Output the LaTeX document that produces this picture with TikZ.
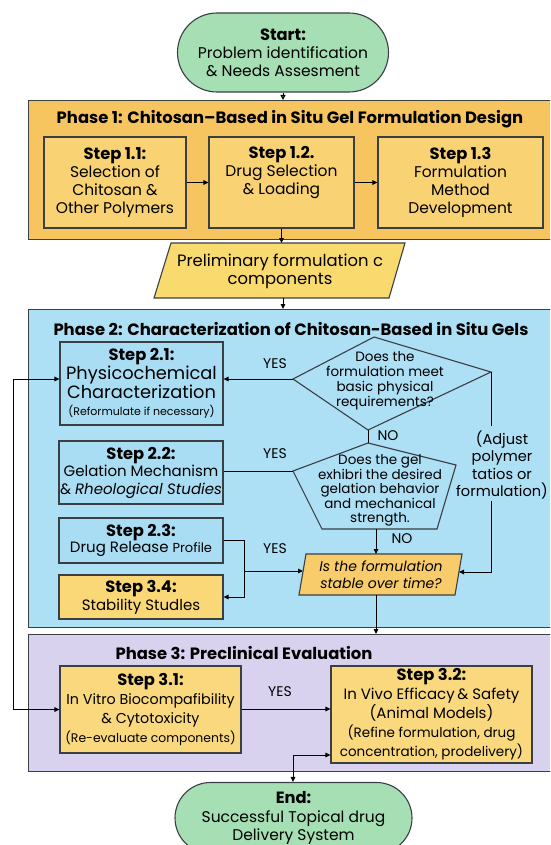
\documentclass[tikz,border=0pt]{standalone}
\usepackage{fontspec}
\setmainfont{Poppins}
\usetikzlibrary{arrows.meta,shapes.misc,calc}
\definecolor{greenC}{HTML}{A5DFB3}
\definecolor{ph1C}{HTML}{F6C55F}
\definecolor{st1C}{HTML}{F9D373}
\definecolor{prC}{HTML}{F9DA6E}
\definecolor{ph2C}{HTML}{ADDFF5}
\definecolor{st2C}{HTML}{A9DDF3}
\definecolor{s34C}{HTML}{FAD878}
\definecolor{stabC}{HTML}{F8CC6A}
\definecolor{ph3C}{HTML}{D8D2EE}
\definecolor{st3C}{HTML}{FAD97E}
\definecolor{lineC}{HTML}{3A3F44}
\newcommand\myfs[2]{\fontsize{#1}{#2}\selectfont}
\newcommand\hd[1]{{\myfs{16.3}{18}\bfseries #1}}
\begin{document}
\begin{tikzpicture}[x=1pt,y=-1pt,
  bx/.style={draw=lineC, line width=1.1pt, inner sep=0pt, align=center},
  phasebox/.style={draw=lineC, line width=1.2pt, inner sep=0pt, anchor=north west},
  ttl/.style={font=\myfs{16.4}{18}\bfseries, inner sep=0pt},
  body/.style={font=\myfs{15.5}{18}},
  shp/.style={draw=lineC, line width=1.1pt},
  arr/.style={draw=black, line width=1pt, -{Triangle[length=5pt,width=4.5pt]}},
  darr/.style={draw=black, line width=1pt, {Triangle[length=5pt,width=4.5pt]}-{Triangle[length=5pt,width=4.5pt]}},
  ln/.style={draw=black, line width=1pt},
  lab/.style={font=\myfs{14}{16}, inner sep=0pt},
  small/.style={font=\myfs{13.5}{15}, inner sep=0pt, align=center}
]
\useasboundingbox (0,0) rectangle (550,845);
\clip (0,0) rectangle (550,845);
\fill[white] (0,0) rectangle (550,845);

% Start
\node[bx, rounded rectangle, fill=greenC, minimum width=211, minimum height=79, body] (start) at (283,52.5)
  {\hd{Start:}\\Problem identification\\\& Needs Assesment};

% Phase 1
\node[phasebox, fill=ph1C, minimum width=524, minimum height=139] (ph1) at (28,100) {};
\draw[draw=black, line width=1pt, -{Triangle[length=5pt,width=5pt,fill=green!55!black]}] (start.south) -- (start.south |- ph1.north);
\node[ttl] (ph1t) at (290,119) {Phase 1: Chitosan–Based in Situ Gel Formulation Design};
\node[bx, fill=st1C, minimum width=142, minimum height=91, body] (s11) at (115,182.5)
  {\hd{Step 1.1:}\\Selection of\\Chitosan \&\\Other Polymers};
\node[bx, fill=st1C, minimum width=145, minimum height=91, body] (s12) at (281.5,182.5)
  {\hd{Step 1.2.}\\Drug Selection\\\& Loading\\\strut};
\node[bx, fill=st1C, minimum width=165, minimum height=91, body] (s13) at (460.5,182.5)
  {\hd{Step 1.3}\\Formulation\\Method\\Development};
\draw[arr] (s11.east) -- (s12.west);
\draw[arr] (s12.east) -- (s13.west);

% Preliminary parallelogram
\coordinate (prA) at (171,243);
\coordinate (prB) at (405,243);
\coordinate (prC) at (389,298);
\coordinate (prD) at (154,298);
\coordinate (prT) at (283,243);
\coordinate (prBot) at (283,298);
\draw[shp, fill=prC] (prA) -- (prB) -- (prC) -- (prD) -- cycle;
\node[align=center, inner sep=0pt, font=\myfs{16.4}{17.5}] (prtxt) at (280,271.5) {Preliminary formulation c\\components};
\draw[arr] (s12.south) -- (s12.south |- prT);

% Phase 2
\node[phasebox, fill=ph2C, minimum width=524, minimum height=318] (ph2) at (28,309) {};
\draw[arr] (prBot) -- (prBot |- ph2.north);
\node[ttl] (ph2t) at (291,329) {Phase 2: Characterization of Chitosan-Based in Situ Gels};

\node[bx, fill=st2C, minimum width=163, minimum height=83, font=\myfs{17.8}{17.5}] (s21) at (141.5,383.5)
  {\hd{Step 2.1:}\\Physicochemical\\Characterization\\{\myfs{11}{19}(Reformulate if necessary)}};
\node[bx, fill=st2C, minimum width=164, minimum height=63, font=\myfs{15}{17.5}] (s22) at (141,472.5)
  {\hd{Step 2.2:}\\Gelation Mechanism\\\& \textit{Rheological Studies}};
\node[bx, fill=st2C, minimum width=164, minimum height=45, font=\myfs{15}{15.5}] (s23) at (141,540.5)
  {\hd{Step 2.3:}\\Drug Release {\myfs{13}{15.5}Profile}};
\node[bx, fill=s34C, minimum width=164, minimum height=44, font=\myfs{15}{18}] (s34) at (141,597)
  {\hd{Step 3.4:}\\Stability Studles};

% Diamond
\coordinate (d1L) at (293,379);
\coordinate (d1T) at (374,337);
\coordinate (d1R) at (491,372);
\coordinate (d1B) at (368,430);
\draw[shp, fill=ph2C] (d1L) -- (d1T) -- (d1R) -- (d1B) -- cycle;
\node[small] (d1txt) at (385,380.5) {Does the\\formulation meet\\basic physical\\requirements?};
\draw[arr] (d1L) -- (s21.east |- d1L);
\node[lab] (yes1) at (275,364) {YES};

% Pentagon
\coordinate (pT) at (368,443);
\coordinate (pR) at (456,465);
\coordinate (pBR) at (437,529);
\coordinate (pBL) at (322,529);
\coordinate (pL) at (293,471);
\draw[shp, fill=ph2C] (pT) -- (pR) -- (pBR) -- (pBL) -- (pL) -- cycle;
\node[small, font=\myfs{13.5}{14.4}] (ptxt) at (380,490.5) {Does the gel\\exhibri the desired\\gelation behavior\\and mechanical\\strength.};
\draw[ln] (d1B) -- (pT);
\node[lab] (no1) at (388,436) {NO};
\draw[ln] (s22.east |- pL) -- (pL);
\node[lab] (yes2) at (275,454) {YES};

% Stability parallelogram
\coordinate (stA) at (306,554);
\coordinate (stB) at (462,554);
\coordinate (stC) at (455,595);
\coordinate (stD) at (299,595);
\coordinate (stTop) at (376,554);
\coordinate (stBot) at (376,595);
\coordinate (stL) at (303,571);
\coordinate (stR) at (459,572);
\draw[shp, fill=stabC] (stA) -- (stB) -- (stC) -- (stD) -- cycle;
\node[font=\myfs{14}{17}\itshape, align=center, inner sep=0pt] (sttxt) at (381,574.5) {Is the formulation\\stable over time?};
\draw[arr] (pBL -| stTop) -- (stTop);
\node[lab] (no2) at (402,539) {NO};

% Step 2.3 connectors
\coordinate (j1) at (244,571);
\draw[arr] (s23.east) -| (j1 |- s34.east) -- (s34.east);
\draw[arr] (j1) -- (stL);
\node[lab] (yes3) at (275,549) {YES};

% Adjust
\node[font=\myfs{14.6}{17.3}, align=center, inner sep=0pt] (adj) at (502,465) {(Adjust\\polymer\\tatios or\\formulation)};
\coordinate (aTop) at (491,426);
\coordinate (aBot) at (491,501);
\draw[ln] (d1R) -- (aTop);
\draw[arr] (aBot) |- (stR);

% Phase 3
\node[phasebox, fill=ph3C, minimum width=524, minimum height=137] (ph3) at (28,634) {};
\draw[arr] (stBot) -- (stBot |- ph3.north);
\node[ttl] (ph3t) at (244,653) {Phase 3: Preclinical Evaluation};

\node[bx, fill=st3C, minimum width=181, minimum height=87, font=\myfs{14.3}{19}] (s31) at (150.5,709.5)
  {\hd{Step 3.1:}\\In Vitro Biocompafibility\\\& Cytotoxicity\\{\myfs{12.4}{21}(Re-evaluate components)}};
\node[bx, fill=st3C, minimum width=201, minimum height=97, font=\myfs{15}{19}] (s32) at (431.5,714.5)
  {\hd{Step 3.2:}\\In Vivo Efficacy\,\& Safety\\(Animal Models)\\{\myfs{13.5}{18}(Refine formulation, drug}\\{\myfs{13.5}{16}concentration, prodelivery)}};
\draw[arr] (s31.east |- 0,709) -- (s32.west |- 0,709);
\node[lab] (yes4) at (280,692) {YES};

% Left loop
\coordinate (lT) at (13,379);
\coordinate (lB) at (13,709.5);
\draw[darr] (s21.west |- lT) -- (lT) -- (lB) -- (s31.west);

% End
\node[bx, rounded rectangle, fill=greenC, minimum width=237, minimum height=71, font=\myfs{15.5}{18.5}] (endn) at (293.5,818)
  {\hd{End:}\\Successful Topical drug\\Delivery System};
\coordinate (q) at (293,755);
\draw[darr] (endn.north -| q) |- (s32.west |- q);
\end{tikzpicture}
\end{document}
